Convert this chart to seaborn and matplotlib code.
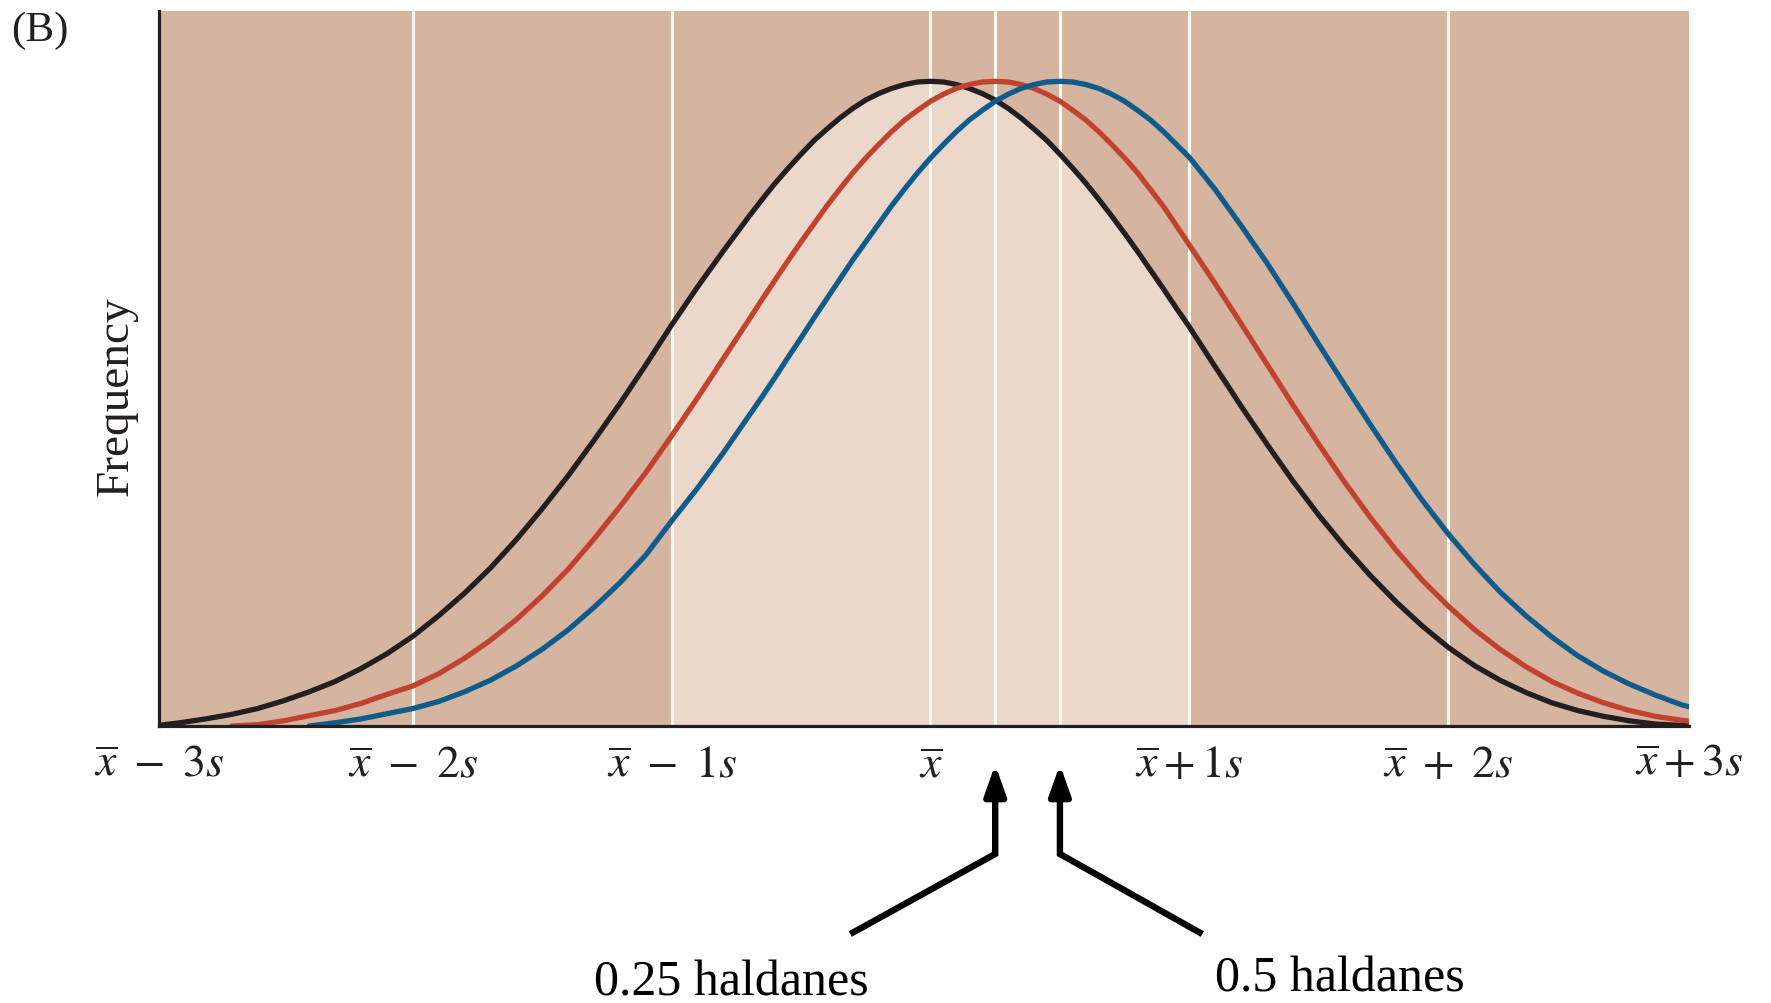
import numpy as np
import pandas as pd
import matplotlib
matplotlib.use("Agg")
import matplotlib.pyplot as plt
import matplotlib.transforms as mtransforms
import seaborn as sns

# x position in units of s (standard deviations) from the original mean
x_sd = [-3.0, -2.9, -2.8, -2.7, -2.6, -2.5, -2.4, -2.3, -2.2, -2.1,
        -2.0, -1.9, -1.8, -1.7, -1.6, -1.5, -1.4, -1.3, -1.2, -1.1,
        -1.0, -0.9, -0.8, -0.7,
        -0.65, -0.6, -0.55, -0.5, -0.45, -0.4, -0.35, -0.3, -0.25, -0.2, -0.15, -0.1, -0.05,
        0.0, 0.05, 0.1, 0.15, 0.2, 0.25, 0.3, 0.35, 0.4, 0.45,
        0.5, 0.55, 0.6, 0.65, 0.7, 0.75, 0.8, 0.85, 0.9, 0.95,
        1.0, 1.05, 1.1, 1.15, 1.2,
        1.3, 1.4, 1.5, 1.6, 1.7, 1.8, 1.9, 2.0, 2.1,
        2.2, 2.3, 2.4, 2.5, 2.6, 2.7, 2.8, 2.9, 3.0]

nan = np.nan
# relative frequency (peak = 1)
freq_original = [0.000, 0.005, 0.011, 0.018, 0.027, 0.039, 0.053, 0.069, 0.089, 0.112,
                 0.139, 0.171, 0.206, 0.245, 0.289, 0.337, 0.388, 0.443, 0.500, 0.560,
                 0.622, 0.681, 0.737, 0.791,
                 0.817, 0.842, 0.865, 0.887, 0.908, 0.926, 0.943, 0.958, 0.971, 0.981, 0.989, 0.995, 0.999,
                 1.000, 0.999, 0.995, 0.989, 0.981, 0.971, 0.958, 0.943, 0.926, 0.908,
                 0.887, 0.865, 0.842, 0.817, 0.791, 0.764, 0.736, 0.707, 0.678, 0.648,
                 0.619, 0.588, 0.557, 0.527, 0.496,
                 0.437, 0.380, 0.327, 0.278, 0.233, 0.192, 0.155, 0.122, 0.094,
                 0.071, 0.052, 0.036, 0.024, 0.015, 0.008, 0.003, 0.001, 0.000]
freq_025 = [nan, nan, nan, 0.000, 0.002, 0.008, 0.016, 0.024, 0.035, 0.049,
            0.062, 0.081, 0.105, 0.133, 0.165, 0.202, 0.243, 0.290, 0.340, 0.393,
            0.450, 0.509, 0.570, 0.631,
            0.662, 0.692, 0.722, 0.751, 0.779, 0.807, 0.833, 0.858, 0.881, 0.902, 0.922, 0.940, 0.955,
            0.969, 0.980, 0.989, 0.995, 0.999, 1.000, 0.999, 0.995, 0.989, 0.980,
            0.969, 0.955, 0.940, 0.922, 0.902, 0.881, 0.858, 0.832, 0.806, 0.776,
            0.746, 0.716, 0.686, 0.655, 0.624,
            0.561, 0.498, 0.437, 0.378, 0.323, 0.272, 0.226, 0.186, 0.150,
            0.119, 0.092, 0.069, 0.051, 0.036, 0.024, 0.015, 0.009, 0.004]
freq_05 = [nan, nan, nan, nan, nan, nan, 0.000, 0.005, 0.011, 0.019,
           0.027, 0.038, 0.053, 0.071, 0.093, 0.119, 0.149, 0.184, 0.222, 0.265,
           0.318, 0.369, 0.424, 0.482,
           0.511, 0.541, 0.572, 0.602, 0.633, 0.663, 0.693, 0.723, 0.751, 0.779, 0.807, 0.833, 0.858,
           0.881, 0.902, 0.922, 0.940, 0.955, 0.969, 0.980, 0.989, 0.995, 0.999,
           1.000, 0.999, 0.995, 0.989, 0.980, 0.969, 0.955, 0.940, 0.922, 0.902,
           0.882, 0.857, 0.832, 0.804, 0.776,
           0.718, 0.656, 0.592, 0.529, 0.467, 0.407, 0.350, 0.298, 0.251,
           0.208, 0.171, 0.138, 0.109, 0.085, 0.065, 0.048, 0.033, 0.023]

curve_names = ["original", "0.25 haldanes", "0.5 haldanes"]
curve_colors = ["#231F20", "#C1422F", "#0E5B8C"]

haldane_shifts = [0.25, 0.5]
haldane_labels = ["0.25 haldanes", "0.5 haldanes"]

tick_pos = [-2, -1, 0, 0.25, 0.5, 1, 2]
tick_labels = [r"$\overline{x}\ -\ 2s$", r"$\overline{x}\ -\ 1s$", r"$\overline{x}$", "", "",
               r"$\overline{x} + 1s$", r"$\overline{x}\ +\ 2s$"]
edge_labels = [r"$\overline{x}\ -\ 3s$", r"$\overline{x} + 3s$"]

dark_bg = "#D6B5A0"
light_bg = "#EBD8CA"
ink = "#231F20"

sns.set_style("white")
plt.rcParams["font.family"] = ["Liberation Serif", "DejaVu Serif"]
plt.rcParams["mathtext.fontset"] = "stix"

fig = plt.figure(figsize=(17.71, 10.04), dpi=100)
ax = fig.add_axes([0.0898, 0.2759, 0.8639, 0.7121])
ax.set_facecolor(dark_bg)

# light band under the original curve, within one s of the mean
inside = [(-1 <= v <= 1) for v in x_sd]
ax.fill_between(x_sd, 0, freq_original, where=inside, color=light_bg, linewidth=0, zorder=1)

for v in tick_pos:
    ax.axvline(v, color="#FFF9F2", lw=2.2, zorder=2)

n = len(x_sd)
df = pd.DataFrame({
    "x": x_sd * 3,
    "freq": freq_original + freq_025 + freq_05,
    "curve": [curve_names[0]] * n + [curve_names[1]] * n + [curve_names[2]] * n,
})
sns.lineplot(data=df, x="x", y="freq", hue="curve", hue_order=curve_names,
             palette=curve_colors, linewidth=3.8, legend=False, ax=ax,
             estimator=None, zorder=3)
for line in ax.lines:
    line.set_solid_joinstyle("round")

ax.set_xlim(-2.98, 2.93)
ax.set_ylim(0, 1.109)
ax.set_yticks([])
ax.set_xticks(tick_pos, tick_labels)
ax.tick_params(axis="x", direction="in", length=16, width=1.6, color=ink,
               pad=13, labelsize=33, labelcolor=ink)
ax.set_xlabel("")
ax.set_ylabel("Frequency", fontsize=34, color=ink)
ax.yaxis.set_label_coords(-0.0137, 0.463)

for side in ["top", "right"]:
    ax.spines[side].set_visible(False)
for side in ["left", "bottom"]:
    ax.spines[side].set_color(ink)
    ax.spines[side].set_linewidth(2.3)
    ax.spines[side].set_zorder(4)

# labels for the two ends of the axis
for xa, lab in zip([0, 1], edge_labels):
    ax.text(xa, -0.0235, lab, transform=ax.transAxes, ha="center", va="top",
            fontsize=33, color=ink)

# arrows pointing at the shifted means
trans = mtransforms.blended_transform_factory(ax.transData, ax.transAxes)
diag_end_x = [-0.31, 1.05]
text_x = [-0.77, 1.58]
text_y = [-0.375, -0.370]
for s, ex, tx, ty, lab in zip(haldane_shifts, diag_end_x, text_x, text_y, haldane_labels):
    ax.plot([ex, s, s], [-0.291, -0.179, -0.09], transform=trans, clip_on=False,
            color="black", lw=4.6, solid_joinstyle="miter", solid_capstyle="butt")
    ax.annotate("", xy=(s, -0.054), xytext=(s, -0.10), xycoords=trans, textcoords=trans,
                arrowprops=dict(arrowstyle="-|>,head_length=0.9,head_width=0.32",
                                mutation_scale=20, lw=4.6, color="black",
                                shrinkA=0, shrinkB=0),
                annotation_clip=False)
    ax.text(tx, ty, lab, transform=trans, ha="center", va="baseline",
            fontsize=36, color="black", clip_on=False)

fig.text(11 / 1771, 1 - 12 / 1004, "(B)", fontsize=31, va="top", ha="left", color=ink)

fig.savefig("out.png", dpi=100, facecolor="white")
